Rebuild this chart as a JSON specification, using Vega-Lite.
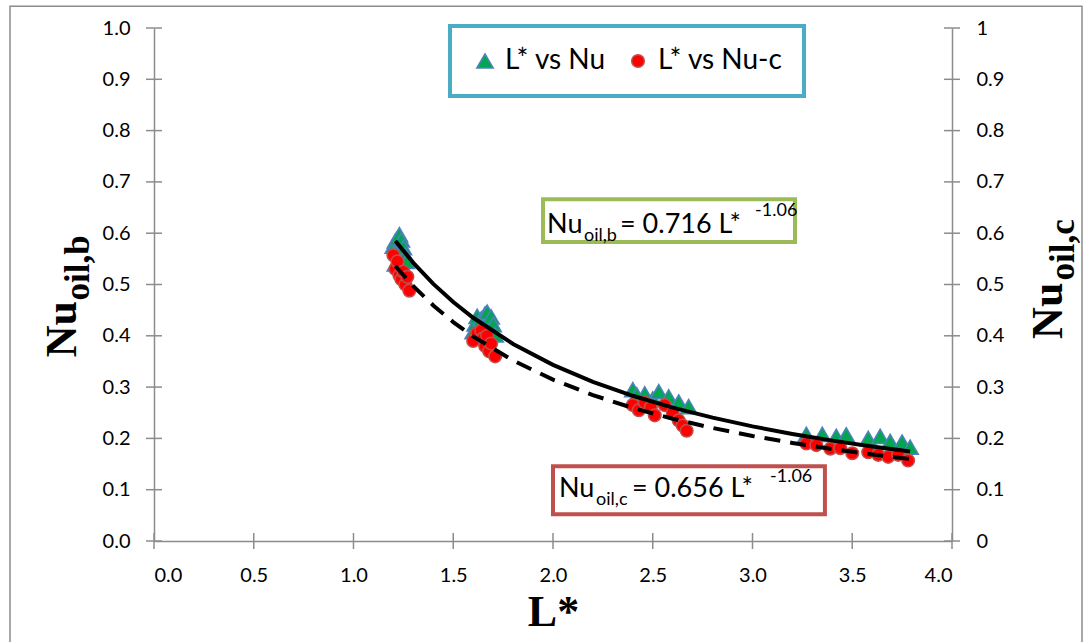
{
  "$schema": "https://vega.github.io/schema/vega-lite/v6.json",
  "autosize": {"type": "none"},
  "width": 798,
  "height": 513,
  "padding": {"left": 154, "top": 28, "right": 134, "bottom": 101},
  "background": "white",
  "config": {
    "view": {"stroke": null},
    "font": "Lato",
    "axis": {
      "labelFont": "Lato", "labelFontSize": 20, "labelColor": "#000000",
      "domainColor": "#8c8c8c", "domainWidth": 1.5,
      "tickColor": "#8c8c8c", "tickWidth": 1.5, "tickSize": 8, "tickOpacity": 0,
      "labelPadding": 16, "grid": false,
      "titleFont": "Liberation Serif", "titleFontWeight": "bold", "titleFontSize": 44, "titleColor": "#000000"
    },
    "legend": {"strokeWidth": 4}
  },
  "datasets": {
    "points": [
      {"L": 1.20, "Nu": 0.575, "series": "L* vs Nu"},
      {"L": 1.21, "Nu": 0.585, "series": "L* vs Nu"},
      {"L": 1.22, "Nu": 0.590, "series": "L* vs Nu"},
      {"L": 1.23, "Nu": 0.597, "series": "L* vs Nu"},
      {"L": 1.24, "Nu": 0.587, "series": "L* vs Nu"},
      {"L": 1.25, "Nu": 0.572, "series": "L* vs Nu"},
      {"L": 1.26, "Nu": 0.557, "series": "L* vs Nu"},
      {"L": 1.265, "Nu": 0.545, "series": "L* vs Nu"},
      {"L": 1.21, "Nu": 0.540, "series": "L* vs Nu"},
      {"L": 1.60, "Nu": 0.408, "series": "L* vs Nu"},
      {"L": 1.61, "Nu": 0.423, "series": "L* vs Nu"},
      {"L": 1.62, "Nu": 0.438, "series": "L* vs Nu"},
      {"L": 1.64, "Nu": 0.433, "series": "L* vs Nu"},
      {"L": 1.66, "Nu": 0.443, "series": "L* vs Nu"},
      {"L": 1.67, "Nu": 0.446, "series": "L* vs Nu"},
      {"L": 1.69, "Nu": 0.437, "series": "L* vs Nu"},
      {"L": 1.70, "Nu": 0.422, "series": "L* vs Nu"},
      {"L": 1.71, "Nu": 0.402, "series": "L* vs Nu"},
      {"L": 2.40, "Nu": 0.295, "series": "L* vs Nu"},
      {"L": 2.42, "Nu": 0.285, "series": "L* vs Nu"},
      {"L": 2.46, "Nu": 0.287, "series": "L* vs Nu"},
      {"L": 2.50, "Nu": 0.277, "series": "L* vs Nu"},
      {"L": 2.53, "Nu": 0.291, "series": "L* vs Nu"},
      {"L": 2.58, "Nu": 0.281, "series": "L* vs Nu"},
      {"L": 2.63, "Nu": 0.271, "series": "L* vs Nu"},
      {"L": 2.68, "Nu": 0.262, "series": "L* vs Nu"},
      {"L": 3.27, "Nu": 0.208, "series": "L* vs Nu"},
      {"L": 3.35, "Nu": 0.208, "series": "L* vs Nu"},
      {"L": 3.42, "Nu": 0.204, "series": "L* vs Nu"},
      {"L": 3.47, "Nu": 0.207, "series": "L* vs Nu"},
      {"L": 3.58, "Nu": 0.200, "series": "L* vs Nu"},
      {"L": 3.64, "Nu": 0.204, "series": "L* vs Nu"},
      {"L": 3.69, "Nu": 0.194, "series": "L* vs Nu"},
      {"L": 3.75, "Nu": 0.193, "series": "L* vs Nu"},
      {"L": 3.79, "Nu": 0.183, "series": "L* vs Nu"},
      {"L": 1.20, "Nu": 0.557, "series": "L* vs Nu-c"},
      {"L": 1.21, "Nu": 0.530, "series": "L* vs Nu-c"},
      {"L": 1.22, "Nu": 0.545, "series": "L* vs Nu-c"},
      {"L": 1.23, "Nu": 0.518, "series": "L* vs Nu-c"},
      {"L": 1.24, "Nu": 0.510, "series": "L* vs Nu-c"},
      {"L": 1.25, "Nu": 0.525, "series": "L* vs Nu-c"},
      {"L": 1.26, "Nu": 0.500, "series": "L* vs Nu-c"},
      {"L": 1.27, "Nu": 0.515, "series": "L* vs Nu-c"},
      {"L": 1.28, "Nu": 0.488, "series": "L* vs Nu-c"},
      {"L": 1.60, "Nu": 0.390, "series": "L* vs Nu-c"},
      {"L": 1.62, "Nu": 0.405, "series": "L* vs Nu-c"},
      {"L": 1.64, "Nu": 0.410, "series": "L* vs Nu-c"},
      {"L": 1.65, "Nu": 0.395, "series": "L* vs Nu-c"},
      {"L": 1.66, "Nu": 0.380, "series": "L* vs Nu-c"},
      {"L": 1.67, "Nu": 0.400, "series": "L* vs Nu-c"},
      {"L": 1.68, "Nu": 0.370, "series": "L* vs Nu-c"},
      {"L": 1.69, "Nu": 0.385, "series": "L* vs Nu-c"},
      {"L": 1.71, "Nu": 0.360, "series": "L* vs Nu-c"},
      {"L": 2.40, "Nu": 0.265, "series": "L* vs Nu-c"},
      {"L": 2.43, "Nu": 0.255, "series": "L* vs Nu-c"},
      {"L": 2.46, "Nu": 0.270, "series": "L* vs Nu-c"},
      {"L": 2.49, "Nu": 0.260, "series": "L* vs Nu-c"},
      {"L": 2.51, "Nu": 0.245, "series": "L* vs Nu-c"},
      {"L": 2.56, "Nu": 0.265, "series": "L* vs Nu-c"},
      {"L": 2.60, "Nu": 0.250, "series": "L* vs Nu-c"},
      {"L": 2.63, "Nu": 0.235, "series": "L* vs Nu-c"},
      {"L": 2.65, "Nu": 0.225, "series": "L* vs Nu-c"},
      {"L": 2.67, "Nu": 0.215, "series": "L* vs Nu-c"},
      {"L": 3.27, "Nu": 0.190, "series": "L* vs Nu-c"},
      {"L": 3.32, "Nu": 0.187, "series": "L* vs Nu-c"},
      {"L": 3.39, "Nu": 0.180, "series": "L* vs Nu-c"},
      {"L": 3.44, "Nu": 0.181, "series": "L* vs Nu-c"},
      {"L": 3.50, "Nu": 0.171, "series": "L* vs Nu-c"},
      {"L": 3.58, "Nu": 0.173, "series": "L* vs Nu-c"},
      {"L": 3.63, "Nu": 0.168, "series": "L* vs Nu-c"},
      {"L": 3.68, "Nu": 0.164, "series": "L* vs Nu-c"},
      {"L": 3.73, "Nu": 0.168, "series": "L* vs Nu-c"},
      {"L": 3.78, "Nu": 0.157, "series": "L* vs Nu-c"}
    ],
    "fitb": [
      {"L": 1.21, "Nu": 0.5850}, {"L": 1.3, "Nu": 0.5422}, {"L": 1.4, "Nu": 0.5012},
      {"L": 1.5, "Nu": 0.4659}, {"L": 1.6, "Nu": 0.4351}, {"L": 1.8, "Nu": 0.3840},
      {"L": 2.0, "Nu": 0.3434}, {"L": 2.2, "Nu": 0.3104}, {"L": 2.4, "Nu": 0.2831},
      {"L": 2.6, "Nu": 0.2600}, {"L": 2.8, "Nu": 0.2404}, {"L": 3.0, "Nu": 0.2234},
      {"L": 3.2, "Nu": 0.2087}, {"L": 3.4, "Nu": 0.1957}, {"L": 3.6, "Nu": 0.1842},
      {"L": 3.79, "Nu": 0.1744}
    ],
    "fitc": [
      {"L": 1.21, "Nu": 0.5360}, {"L": 1.3, "Nu": 0.4967}, {"L": 1.4, "Nu": 0.4592},
      {"L": 1.5, "Nu": 0.4268}, {"L": 1.6, "Nu": 0.3986}, {"L": 1.8, "Nu": 0.3518},
      {"L": 2.0, "Nu": 0.3146}, {"L": 2.2, "Nu": 0.2844}, {"L": 2.4, "Nu": 0.2593},
      {"L": 2.6, "Nu": 0.2383}, {"L": 2.8, "Nu": 0.2203}, {"L": 3.0, "Nu": 0.2047},
      {"L": 3.2, "Nu": 0.1912}, {"L": 3.4, "Nu": 0.1793}, {"L": 3.6, "Nu": 0.1687},
      {"L": 3.79, "Nu": 0.1598}
    ],
    "yticks": [
      {"v": 0}, {"v": 0.1}, {"v": 0.2}, {"v": 0.3}, {"v": 0.4}, {"v": 0.5},
      {"v": 0.6}, {"v": 0.7}, {"v": 0.8}, {"v": 0.9}, {"v": 1}
    ],
    "xticks": [
      {"v": 0}, {"v": 0.5}, {"v": 1}, {"v": 1.5}, {"v": 2}, {"v": 2.5},
      {"v": 3}, {"v": 3.5}, {"v": 4}
    ],
    "boxes": [
      {"eq": "frame", "x1": -0.7218, "x2": 4.6516, "y1": -0.2326, "y2": 1.0423},
      {"eq": "b", "x1": 1.950, "x2": 3.213, "y1": 0.583, "y2": 0.666},
      {"eq": "c", "x1": 2.000, "x2": 3.363, "y1": 0.052, "y2": 0.1456}
    ],
    "eqtext": [
      {"L": 1.970, "Nu": 0.5998, "text": "Nu", "role": "main"},
      {"L": 2.155, "Nu": 0.5842, "text": "oil,b", "role": "sub"},
      {"L": 2.336, "Nu": 0.5998, "text": "= 0.716 L*", "role": "main"},
      {"L": 3.013, "Nu": 0.6330, "text": "-1.06", "role": "sub"},
      {"L": 2.030, "Nu": 0.0852, "text": "Nu", "role": "main"},
      {"L": 2.216, "Nu": 0.0696, "text": "oil,c", "role": "sub"},
      {"L": 2.396, "Nu": 0.0852, "text": "= 0.656 L*", "role": "main"},
      {"L": 3.088, "Nu": 0.1144, "text": "-1.06", "role": "sub"}
    ],
    "ytitles": [
      {"L": -0.391, "Nu": 0.358, "text": "Nu", "role": "main"},
      {"L": -0.326, "Nu": 0.469, "text": "oil,b", "role": "sub"},
      {"L": 4.551, "Nu": 0.394, "text": "Nu", "role": "main"},
      {"L": 4.611, "Nu": 0.508, "text": "oil,c", "role": "sub"}
    ]
  },
  "layer": [
    {
      "layer": [
        {
          "data": {"name": "boxes"},
          "transform": [{"filter": "datum.eq === 'frame'"}],
          "mark": {"type": "rect", "fillOpacity": 0, "fill": "white", "stroke": "#8c8c8c", "strokeWidth": 1.5},
          "encoding": {
            "x": {"field": "x1", "type": "quantitative", "scale": {"domain": [0, 4], "nice": false}, "title": "L*"},
            "x2": {"field": "x2"},
            "y": {"field": "y1", "type": "quantitative", "scale": {"domain": [0, 1], "nice": false}, "title": null},
            "y2": {"field": "y2"}
          }
        },
        {
          "data": {"name": "yticks"},
          "mark": {"type": "tick", "orient": "horizontal", "size": 16, "thickness": 1.5, "color": "#8c8c8c", "opacity": 1},
          "encoding": {
            "x": {"datum": 0, "type": "quantitative", "scale": {"domain": [0, 4], "nice": false}, "title": "L*"},
            "y": {"field": "v", "type": "quantitative", "scale": {"domain": [0, 1], "nice": false}, "title": null}
          }
        },
        {
          "data": {"name": "yticks"},
          "mark": {"type": "tick", "orient": "horizontal", "size": 16, "thickness": 1.5, "color": "#8c8c8c", "opacity": 1},
          "encoding": {
            "x": {"datum": 4, "type": "quantitative", "scale": {"domain": [0, 4], "nice": false}, "title": "L*"},
            "y": {"field": "v", "type": "quantitative", "scale": {"domain": [0, 1], "nice": false}, "title": null}
          }
        },
        {
          "data": {"name": "xticks"},
          "mark": {"type": "tick", "orient": "vertical", "size": 16, "thickness": 1.5, "color": "#8c8c8c", "opacity": 1},
          "encoding": {
            "x": {"field": "v", "type": "quantitative", "scale": {"domain": [0, 4], "nice": false}, "title": "L*"},
            "y": {"datum": 0, "type": "quantitative", "scale": {"domain": [0, 1], "nice": false}, "title": null}
          }
        },
        {
          "data": {"name": "points"},
          "mark": {"type": "point", "filled": true, "strokeWidth": 1.5, "opacity": 1},
          "encoding": {
            "x": {"field": "L", "type": "quantitative", "scale": {"domain": [0, 4], "nice": false}, "title": "L*",
                  "axis": {"values": [0, 0.5, 1, 1.5, 2, 2.5, 3, 3.5, 4], "format": ".1f", "titlePadding": 5}},
            "y": {"field": "Nu", "type": "quantitative", "scale": {"domain": [0, 1], "nice": false}, "title": null,
                  "axis": {"orient": "left", "values": [0, 0.1, 0.2, 0.3, 0.4, 0.5, 0.6, 0.7, 0.8, 0.9, 1], "format": ".1f"}},
            "fill": {"field": "series", "type": "nominal",
                     "scale": {"domain": ["L* vs Nu", "L* vs Nu-c"], "range": ["#00A651", "#FF0000"]},
                     "legend": {"orient": "none", "legendX": 296, "legendY": -2, "direction": "horizontal", "columns": 2, "title": null,
                                "labelFontSize": 28, "labelFont": "Lato", "labelColor": "#000000",
                                "strokeColor": "#4BACC6", "fillColor": "white", "padding": 21,
                                "columnPadding": 18, "labelOffset": 6, "symbolStrokeWidth": 1.5}},
            "stroke": {"field": "series", "type": "nominal",
                       "scale": {"domain": ["L* vs Nu", "L* vs Nu-c"], "range": ["#4F81BD", "#C0504D"]}},
            "shape": {"field": "series", "type": "nominal",
                      "scale": {"domain": ["L* vs Nu", "L* vs Nu-c"], "range": ["triangle-up", "circle"]}},
            "size": {"field": "series", "type": "nominal",
                     "scale": {"domain": ["L* vs Nu", "L* vs Nu-c"], "range": [270, 160]}}
          }
        },
        {
          "data": {"name": "fitb"},
          "mark": {"type": "line", "color": "#000000", "strokeWidth": 4},
          "encoding": {
            "x": {"field": "L", "type": "quantitative", "scale": {"domain": [0, 4], "nice": false}, "title": "L*"},
            "y": {"field": "Nu", "type": "quantitative", "scale": {"domain": [0, 1], "nice": false}, "title": null}
          }
        },
        {
          "data": {"name": "boxes"},
          "transform": [{"filter": "datum.eq === 'b'"}],
          "mark": {"type": "rect", "fill": "white", "stroke": "#9BBB59", "strokeWidth": 4},
          "encoding": {
            "x": {"field": "x1", "type": "quantitative", "scale": {"domain": [0, 4], "nice": false}, "title": "L*"},
            "x2": {"field": "x2"},
            "y": {"field": "y1", "type": "quantitative", "scale": {"domain": [0, 1], "nice": false}, "title": null},
            "y2": {"field": "y2"}
          }
        },
        {
          "data": {"name": "boxes"},
          "transform": [{"filter": "datum.eq === 'c'"}],
          "mark": {"type": "rect", "fill": "white", "stroke": "#C0504D", "strokeWidth": 4},
          "encoding": {
            "x": {"field": "x1", "type": "quantitative", "scale": {"domain": [0, 4], "nice": false}, "title": "L*"},
            "x2": {"field": "x2"},
            "y": {"field": "y1", "type": "quantitative", "scale": {"domain": [0, 1], "nice": false}, "title": null},
            "y2": {"field": "y2"}
          }
        },
        {
          "data": {"name": "eqtext"},
          "transform": [{"filter": "datum.role === 'main'"}],
          "mark": {"type": "text", "align": "left", "baseline": "alphabetic", "font": "Lato", "fontSize": 27, "color": "#000000"},
          "encoding": {
            "x": {"field": "L", "type": "quantitative", "scale": {"domain": [0, 4], "nice": false}, "title": "L*"},
            "y": {"field": "Nu", "type": "quantitative", "scale": {"domain": [0, 1], "nice": false}, "title": null},
            "text": {"field": "text"}
          }
        },
        {
          "data": {"name": "eqtext"},
          "transform": [{"filter": "datum.role === 'sub'"}],
          "mark": {"type": "text", "align": "left", "baseline": "alphabetic", "font": "Lato", "fontSize": 18, "color": "#000000"},
          "encoding": {
            "x": {"field": "L", "type": "quantitative", "scale": {"domain": [0, 4], "nice": false}, "title": "L*"},
            "y": {"field": "Nu", "type": "quantitative", "scale": {"domain": [0, 1], "nice": false}, "title": null},
            "text": {"field": "text"}
          }
        },
        {
          "data": {"name": "ytitles"},
          "transform": [{"filter": "datum.role === 'main'"}],
          "mark": {"type": "text", "align": "left", "baseline": "alphabetic", "angle": 270, "font": "Liberation Serif", "fontWeight": "bold", "fontSize": 44, "color": "#000000"},
          "encoding": {
            "x": {"field": "L", "type": "quantitative", "scale": {"domain": [0, 4], "nice": false}, "title": "L*"},
            "y": {"field": "Nu", "type": "quantitative", "scale": {"domain": [0, 1], "nice": false}, "title": null},
            "text": {"field": "text"}
          }
        },
        {
          "data": {"name": "ytitles"},
          "transform": [{"filter": "datum.role === 'sub'"}],
          "mark": {"type": "text", "align": "left", "baseline": "alphabetic", "angle": 270, "font": "Liberation Serif", "fontWeight": "bold", "fontSize": 35, "color": "#000000"},
          "encoding": {
            "x": {"field": "L", "type": "quantitative", "scale": {"domain": [0, 4], "nice": false}, "title": "L*"},
            "y": {"field": "Nu", "type": "quantitative", "scale": {"domain": [0, 1], "nice": false}, "title": null},
            "text": {"field": "text"}
          }
        }
      ]
    },
    {
      "data": {"name": "fitc"},
      "mark": {"type": "line", "color": "#000000", "strokeWidth": 4, "strokeDash": [16, 10]},
      "encoding": {
        "x": {"field": "L", "type": "quantitative", "scale": {"domain": [0, 4], "nice": false}, "title": "L*"},
        "y": {"field": "Nu", "type": "quantitative", "scale": {"domain": [0, 1], "nice": false}, "title": null,
              "axis": {"orient": "right", "values": [0, 0.1, 0.2, 0.3, 0.4, 0.5, 0.6, 0.7, 0.8, 0.9, 1], "format": "~g"}}
      }
    }
  ],
  "resolve": {"scale": {"y": "independent"}}
}
